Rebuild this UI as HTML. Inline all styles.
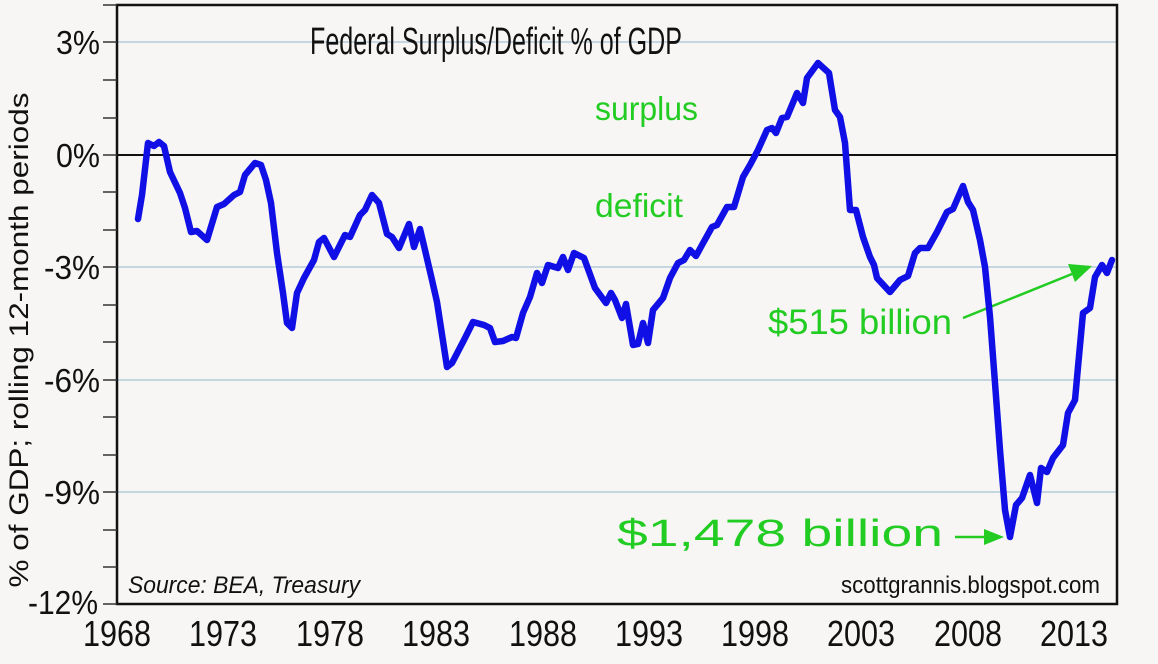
<!DOCTYPE html>
<html><head><meta charset="utf-8"><style>
html,body{margin:0;padding:0;background:#f7f6f4;}
svg{display:block;}
text{font-family:"Liberation Sans",sans-serif;}
</style></head><body>
<svg width="1158" height="664" viewBox="0 0 1158 664" xmlns="http://www.w3.org/2000/svg">
<rect width="1158" height="664" fill="#f7f6f4"/>
<g stroke="#b5cbd9" stroke-width="1.5">
<line x1="117" y1="42" x2="1117" y2="42"/>
<line x1="117" y1="267" x2="1117" y2="267"/>
<line x1="117" y1="380" x2="1117" y2="380"/>
<line x1="117" y1="492" x2="1117" y2="492"/>
</g>
<line x1="117" y1="155" x2="1117" y2="155" stroke="#111" stroke-width="2"/>
<rect x="117" y="5" width="1000" height="599" fill="none" stroke="#111" stroke-width="2.5"/>
<g stroke="#333" stroke-width="1.5">
<line x1="103" y1="5" x2="117" y2="5"/>
<line x1="103" y1="42" x2="117" y2="42"/>
<line x1="103" y1="80" x2="117" y2="80"/>
<line x1="103" y1="118" x2="117" y2="118"/>
<line x1="103" y1="155" x2="117" y2="155"/>
<line x1="103" y1="192" x2="117" y2="192"/>
<line x1="103" y1="230" x2="117" y2="230"/>
<line x1="103" y1="267" x2="117" y2="267"/>
<line x1="103" y1="305" x2="117" y2="305"/>
<line x1="103" y1="342" x2="117" y2="342"/>
<line x1="103" y1="380" x2="117" y2="380"/>
<line x1="103" y1="417" x2="117" y2="417"/>
<line x1="103" y1="455" x2="117" y2="455"/>
<line x1="103" y1="492" x2="117" y2="492"/>
<line x1="103" y1="530" x2="117" y2="530"/>
<line x1="103" y1="567" x2="117" y2="567"/>
<line x1="103" y1="604" x2="117" y2="604"/>
</g>
<g stroke="#333" stroke-width="1.5" id="xt"></g>
<g font-size="33" fill="#111" text-anchor="end">
<text x="100" y="54" textLength="44" lengthAdjust="spacingAndGlyphs">3%</text>
<text x="100" y="167" textLength="44" lengthAdjust="spacingAndGlyphs">0%</text>
<text x="100" y="279" textLength="56" lengthAdjust="spacingAndGlyphs">-3%</text>
<text x="100" y="392" textLength="56" lengthAdjust="spacingAndGlyphs">-6%</text>
<text x="100" y="504" textLength="56" lengthAdjust="spacingAndGlyphs">-9%</text>
<text x="98" y="614" textLength="70" lengthAdjust="spacingAndGlyphs">-12%</text>
</g>
<g font-size="36" fill="#111" text-anchor="middle">
<text x="117" y="646" textLength="68" lengthAdjust="spacingAndGlyphs">1968</text>
<text x="223" y="646" textLength="68" lengthAdjust="spacingAndGlyphs">1973</text>
<text x="330" y="646" textLength="68" lengthAdjust="spacingAndGlyphs">1978</text>
<text x="436" y="646" textLength="68" lengthAdjust="spacingAndGlyphs">1983</text>
<text x="543" y="646" textLength="68" lengthAdjust="spacingAndGlyphs">1988</text>
<text x="649" y="646" textLength="68" lengthAdjust="spacingAndGlyphs">1993</text>
<text x="755" y="646" textLength="68" lengthAdjust="spacingAndGlyphs">1998</text>
<text x="861" y="646" textLength="68" lengthAdjust="spacingAndGlyphs">2003</text>
<text x="968" y="646" textLength="68" lengthAdjust="spacingAndGlyphs">2008</text>
<text x="1074" y="646" textLength="68" lengthAdjust="spacingAndGlyphs">2013</text>
</g>
<text transform="translate(28,340) rotate(-90)" font-size="27" fill="#111" text-anchor="middle" textLength="495" lengthAdjust="spacingAndGlyphs">% of GDP; rolling 12-month periods</text>
<text x="310" y="54" font-size="38" fill="#111" textLength="372" lengthAdjust="spacingAndGlyphs">Federal Surplus/Deficit % of GDP</text>
<g fill="#22cc22">
<text x="595" y="120" font-size="33" textLength="103" lengthAdjust="spacingAndGlyphs">surplus</text>
<text x="595" y="217" font-size="33" textLength="88" lengthAdjust="spacingAndGlyphs">deficit</text>
<text x="768" y="334" font-size="35" textLength="184" lengthAdjust="spacingAndGlyphs">$515 billion</text>
<text x="617" y="546" font-size="38" textLength="326" lengthAdjust="spacingAndGlyphs">$1,478 billion</text>
</g>
<g stroke="#22cc22" stroke-width="2.5" fill="#22cc22">
<line x1="963" y1="318" x2="1072" y2="274"/>
<polygon points="1092,266 1068,264 1075,282" stroke="none"/>
<line x1="955" y1="537" x2="986" y2="537"/>
<polygon points="1004,537 984,529 984,545" stroke="none"/>
</g>
<text x="128" y="593" font-size="24" font-style="italic" fill="#111" textLength="232" lengthAdjust="spacingAndGlyphs">Source:  BEA, Treasury</text>
<text x="841" y="593" font-size="24" fill="#111" textLength="259" lengthAdjust="spacingAndGlyphs">scottgrannis.blogspot.com</text>
<polyline fill="none" stroke="#1010e6" stroke-width="6.5" stroke-linejoin="round" stroke-linecap="round" points="
138,219 142,195 148,143 154,146 159,142 164,146 170,172 180,193 185,208 191,232 197,231 207,240 217,207 224,204 234,195 240,192 245,175 255,163 261,165 266,180 271,203 277,253 283,293 287,323 292,328 297,293 304,278 314,260 319,242 324,238 334,257 345,235 350,237 360,215 365,210 372,195 379,203 387,234 392,237 399,248 409,224 414,247 420,229 425,250 432,280 437,302 447,367 452,363 464,340 473,322 484,325 490,328 495,342 503,341 512,337 516,338 523,313 530,297 537,273 542,283 548,265 558,268 563,257 568,270 574,253 584,258 595,288 606,303 611,293 615,300 622,318 626,304 633,345 638,344 643,323 648,343 653,310 663,298 670,278 678,263 684,260 690,250 696,256 702,245 712,227 717,225 727,207 734,207 743,177 750,165 758,150 767,130 772,128 776,133 782,118 787,117 797,93 803,103 807,78 818,63 829,73 835,110 840,117 845,143 850,210 856,210 863,237 870,257 874,265 877,278 890,292 900,280 908,276 915,253 920,248 928,248 937,232 947,212 953,209 963,186 968,202 973,210 980,240 985,267 990,317 995,383 1000,450 1005,510 1010,537 1016,505 1022,498 1030,475 1037,503 1041,468 1047,472 1053,458 1063,445 1068,413 1075,400 1078,367 1083,313 1090,308 1095,277 1102,265 1107,273 1112,260"/>
<script>
var g=document.getElementById('xt'),s='';
for(var i=0;i<=47;i++){var x=117+i*21.28;var l=(i%5==0)?12:7;
s+='<line x1="'+x+'" y1="604" x2="'+x+'" y2="'+(604+l)+'"/>';}
g.innerHTML=s;
</script>
</svg>
</body></html>
